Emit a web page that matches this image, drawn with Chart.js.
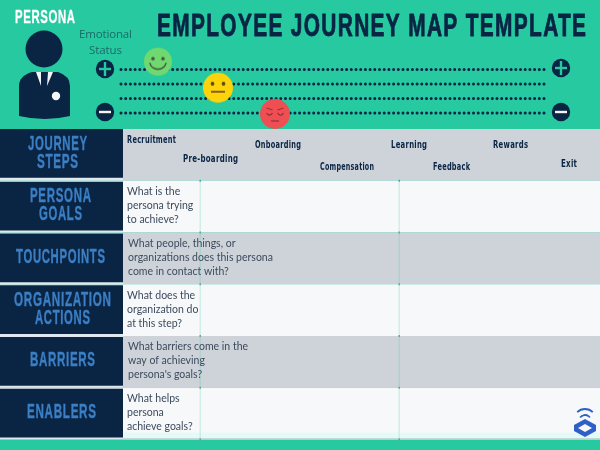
<!DOCTYPE html>
<html lang="en">
<head>
<meta charset="UTF-8">
<title>Employee Journey Map Template</title>
<script src="https://cdn.jsdelivr.net/npm/chart.js"></script>
<style>
    html, body { margin: 0; padding: 0; background: #26c9a0; }
    canvas { display: block; }
</style>
</head>
<body>
<canvas id="journey" width="600" height="450"></canvas>
<script>
// Data
const chartTitle = 'EMPLOYEE JOURNEY MAP TEMPLATE';
const personaLabel = 'PERSONA';
const emotionCaption = ['Emotional', 'Status'];
const moodLevels = [3, 2, 1, 0];
const moodPointX = [158, 218, 275];
const moodPointY = [3.54, 1.74, -0.07];
const stepNames = ['Recruitment', 'Pre-boarding', 'Onboarding', 'Compensation', 'Learning', 'Feedback', 'Rewards', 'Exit'];
const rowTitles = [['JOURNEY', 'STEPS'], ['PERSONA', 'GOALS'], ['TOUCHPOINTS'], ['ORGANIZATION', 'ACTIONS'], ['BARRIERS'], ['ENABLERS']];
const rowPrompts = [
    [],
    ['What is the', 'persona trying', 'to achieve?'],
    ['What people, things, or', 'organizations does this persona', 'come in contact with?'],
    ['What does the', 'organization do', 'at this step?'],
    ['What barriers come in the', 'way of achieving', "persona's goals?"],
    ['What helps', 'persona', 'achieve goals?']
];

// Layout
const stepLeft = [127, 183, 255, 320, 391, 433, 493, 561];
const stepTop = [140, 159, 145, 167, 145, 167, 145, 164];
const stepWidth = [49, 55, 46, 54, 36, 37, 35, 16];
const promptLeft = [0, 127, 128, 127, 128, 127];
const titleCenter = [57.5, 60.5, 60.5, 62.5, 62.5, 61.5];
const titleWidth = [[59, 41], [61, 43], [89], [97, 55], [65], [69]];
const dividers = [200, 399];

const NAVY = '#0a2444';
const TEAL = '#26c9a0';
const GREY = '#cdd3d9';
const PALE = '#f6f8fa';
const BLUE = '#3b7fc4';
const HEAD = '"Liberation Sans", sans-serif';
const STEP = '"DejaVu Sans", sans-serif';

function faceCanvas(radius, fill, draw) {
    const c = document.createElement('canvas');
    c.width = c.height = radius * 2 + 2;
    const g = c.getContext('2d');
    g.translate(radius + 1, radius + 1);
    g.beginPath();
    g.arc(0, 0, radius, 0, Math.PI * 2);
    g.fillStyle = fill;
    g.fill();
    draw(g);
    return c;
}

function eyes(g, dx, dy, r, color) {
    g.fillStyle = color;
    [-dx, dx].forEach(x => {
        g.beginPath();
        g.arc(x, dy, r, 0, Math.PI * 2);
        g.fill();
    });
}

const faces = [
    faceCanvas(14, '#6fd96f', g => {
        eyes(g, 5, -3, 1.8, '#44543f');
        g.strokeStyle = '#44543f';
        g.lineWidth = 1.4;
        g.beginPath();
        g.arc(0, -1, 8.5, 0.25, Math.PI - 0.25);
        g.stroke();
    }),
    faceCanvas(15, '#fdd40c', g => {
        eyes(g, 5.5, -4, 1.9, '#5c4a12');
        g.fillStyle = '#8a5f14';
        g.fillRect(-7, 3, 14, 2);
    }),
    faceCanvas(15, '#ee4f52', g => {
        g.strokeStyle = '#9c2f38';
        g.lineWidth = 1.3;
        [-5.5, 5.5].forEach(x => {
            g.beginPath();
            g.arc(x, -2, 3, 0.3, Math.PI - 0.3);
            g.stroke();
            g.beginPath();
            g.moveTo(x - 3, -5 - Math.sign(x) * -1);
            g.lineTo(x + 3, -5 - Math.sign(x) * 1);
            g.stroke();
        });
        g.beginPath();
        g.moveTo(-4, 7);
        g.lineTo(4, 7);
        g.stroke();
    })
];

function put(ctx, str, x, y, font, color, width, align) {
    ctx.font = font;
    ctx.fillStyle = color;
    ctx.textBaseline = 'middle';
    ctx.textAlign = 'left';
    ctx.letterSpacing = '0px';
    const w = ctx.measureText(str).width;
    const spacing = width ? (width - w) / (str.length - 1) : 0;
    ctx.letterSpacing = spacing + 'px';
    const full = width || w;
    ctx.fillText(str, align === 'center' ? x - full / 2 : x, y);
    ctx.letterSpacing = '0px';
}

// Condensed capitals: no narrow face is installed, so squeeze a bold one to the width
function putSqueezed(ctx, str, x, y, font, color, width, gap, weight, align) {
    ctx.save();
    ctx.font = font;
    ctx.fillStyle = color;
    ctx.textBaseline = 'middle';
    ctx.textAlign = 'left';
    ctx.letterSpacing = gap + 'px';
    const w = ctx.measureText(str).width - gap;
    const sx = width / w;
    ctx.translate(align === 'center' ? x - width / 2 : x, y);
    ctx.scale(sx, 1);
    ctx.fillText(str, 0, 0);
    if (weight) {
        ctx.strokeStyle = color;
        ctx.lineWidth = weight;
        ctx.lineJoin = 'round';
        ctx.strokeText(str, 0, 0);
    }
    ctx.restore();
}

function drawPerson(ctx) {
    ctx.fillStyle = NAVY;
    ctx.beginPath();
    ctx.arc(44, 49, 18.5, 0, Math.PI * 2);
    ctx.fill();
    ctx.beginPath();
    ctx.moveTo(19, 86);
    ctx.quadraticCurveTo(19, 76, 32, 72);
    ctx.lineTo(58, 72);
    ctx.quadraticCurveTo(70, 76, 70, 86);
    ctx.lineTo(70, 116);
    ctx.quadraticCurveTo(45, 122, 19, 116);
    ctx.closePath();
    ctx.fill();
    ctx.fillStyle = '#f4f6f6';
    [[36, 72, 41, 72, 41, 86], [48, 72, 53, 72, 47, 86]].forEach(p => {
        ctx.beginPath();
        ctx.moveTo(p[0], p[1]);
        ctx.lineTo(p[2], p[3]);
        ctx.lineTo(p[4], p[5]);
        ctx.closePath();
        ctx.fill();
    });
    ctx.beginPath();
    ctx.arc(56, 96, 4.2, 0, Math.PI * 2);
    ctx.fill();
}

function drawSign(ctx, x, y, plus) {
    ctx.fillStyle = NAVY;
    ctx.beginPath();
    ctx.arc(x, y, 9.2, 0, Math.PI * 2);
    ctx.fill();
    ctx.fillStyle = plus ? TEAL : '#f2f4f6';
    ctx.fillRect(x - 6, y - 1.2, 12, 2.4);
    if (plus) ctx.fillRect(x - 1.2, y - 7, 2.4, 14);
}

function drawLogo(ctx) {
    ctx.strokeStyle = '#2f5fc8';
    ctx.lineWidth = 1.8;
    ctx.beginPath();
    ctx.arc(585, 420, 11, Math.PI * 1.25, Math.PI * 1.75);
    ctx.stroke();
    ctx.beginPath();
    ctx.arc(585, 421, 6, Math.PI * 1.2, Math.PI * 1.8);
    ctx.stroke();
    ctx.fillStyle = '#2f5fc8';
    ctx.beginPath();
    ctx.moveTo(585, 419);
    ctx.lineTo(596, 425);
    ctx.lineTo(596, 431);
    ctx.lineTo(585, 437);
    ctx.lineTo(574, 431);
    ctx.lineTo(574, 425);
    ctx.closePath();
    ctx.fill();
    ctx.fillStyle = PALE;
    ctx.beginPath();
    ctx.moveTo(585, 424);
    ctx.lineTo(592, 428);
    ctx.lineTo(585, 432);
    ctx.lineTo(578, 428);
    ctx.closePath();
    ctx.fill();
}

const tablePlugin = {
    id: 'table',
    beforeDatasetsDraw(chart) {
        const ctx = chart.ctx;
        const x = chart.scales.x;
        const r = chart.scales.yRow;
        const left = x.getPixelForValue(123);
        const right = x.getPixelForValue(600);
        ctx.save();
        ctx.fillStyle = TEAL;
        ctx.fillRect(0, 0, 600, 450);

        rowTitles.forEach((lines, i) => {
            const top = r.getPixelForValue(i);
            const bottom = r.getPixelForValue(i + 1);
            ctx.fillStyle = i % 2 ? PALE : GREY;
            ctx.fillRect(left, top, right - left, bottom - top);
            ctx.fillStyle = '#dfe8ee';
            ctx.fillRect(0, top, left, bottom - top);
            ctx.fillStyle = NAVY;
            ctx.fillRect(0, top + (i ? 1 : 0), left, bottom - top - 3);
        });
        ctx.fillStyle = '#e2fbf7';
        ctx.fillRect(left, r.getPixelForValue(5.87), right - left, r.getPixelForValue(6) - r.getPixelForValue(5.87));
        ctx.fillStyle = '#a9b4b8';
        ctx.fillRect(left, r.getPixelForValue(6) - 1, right - left, 1);

        dividers.forEach(d => {
            const px = x.getPixelForValue(d);
            ctx.fillStyle = 'rgba(38, 201, 160, 0.18)';
            ctx.fillRect(px - 0.5, r.getPixelForValue(1), 1.5, r.getPixelForValue(6) - r.getPixelForValue(1));
            for (let i = 1; i <= 6; i++) {
                ctx.fillStyle = i === 1 ? '#35b894' : '#7e9a9c';
                ctx.fillRect(px - 0.5, r.getPixelForValue(i) - 1, 1.5, 2);
            }
        });

        drawPerson(ctx);
        drawSign(ctx, 105, 69, true);
        drawSign(ctx, 561, 68, true);
        drawSign(ctx, 105, 112, false);
        drawSign(ctx, 561, 112, false);
        drawLogo(ctx);

        putSqueezed(ctx, personaLabel, 15, 18, 'bold 18px ' + HEAD, '#ffffff', 60, 1, 0.3);
        putSqueezed(ctx, chartTitle, 157, 27.5, 'bold 31px ' + HEAD, NAVY, 429, 2, 0.8);
        emotionCaption.forEach((s, i) => {
            put(ctx, s, 105.5, 35 + i * 16, '11.5px "Open Sans", sans-serif', '#1b6b68', i ? 33 : 53, 'center');
        });

        stepNames.forEach((s, i) => {
            putSqueezed(ctx, s, stepLeft[i], stepTop[i], 'bold 10.5px ' + STEP, NAVY, stepWidth[i], 0.4);
        });

        rowTitles.forEach((lines, i) => {
            const mid = (r.getPixelForValue(i) + r.getPixelForValue(i + 1)) / 2 - 1;
            lines.forEach((s, j) => {
                const y = mid + (j - (lines.length - 1) / 2) * 18;
                putSqueezed(ctx, s, titleCenter[i], y, 'bold 20px ' + HEAD, BLUE, titleWidth[i][j], 1.2, 0.4, 'center');
            });
            rowPrompts[i].forEach((s, j) => {
                put(ctx, s, promptLeft[i], mid + (j - 1) * 14, '10.5px Lato, sans-serif', '#3d4b5e');
            });
        });
        ctx.restore();
    }
};

const moodLines = moodLevels.map(level => ({
    type: 'line',
    data: [{ x: 121, y: level }, { x: 547, y: level }],
    yAxisID: 'yMood',
    borderColor: NAVY,
    borderWidth: 3,
    borderDash: [0, 4.7],
    borderCapStyle: 'round',
    pointRadius: 0,
    clip: false
}));

new Chart(document.getElementById('journey'), {
    type: 'scatter',
    data: {
        datasets: [{
            type: 'scatter',
            data: moodPointX.map((x, i) => ({ x: x, y: moodPointY[i] })),
            yAxisID: 'yMood',
            pointStyle: faces,
            clip: false
        }].concat(moodLines)
    },
    options: {
        responsive: false,
        animation: false,
        events: [],
        layout: { padding: 0, autoPadding: false },
        plugins: { legend: { display: false }, tooltip: { enabled: false } },
        scales: {
            x: { type: 'linear', min: 0, max: 600, display: false },
            yMood: { type: 'linear', min: -23.24, max: 7.79, display: false },
            yRow: { type: 'linear', reverse: true, min: -2.493, max: 6.203, display: false }
        }
    },
    plugins: [tablePlugin]
});
</script>
</body>
</html>
